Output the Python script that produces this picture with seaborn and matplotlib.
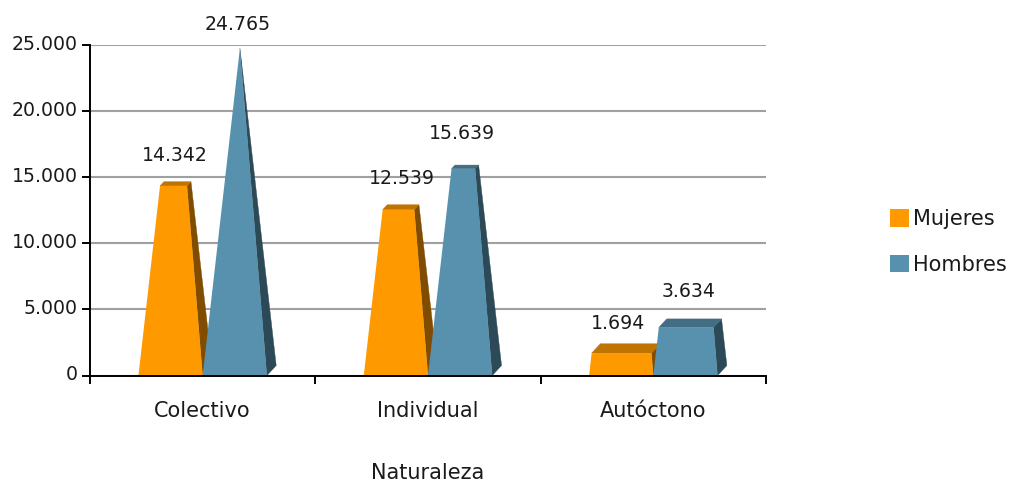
import pandas as pd
import matplotlib
matplotlib.use('Agg')
import matplotlib.pyplot as plt
from matplotlib.patches import Polygon
from matplotlib.transforms import ScaledTranslation
import seaborn as sns

categories = ['Colectivo', 'Individual', 'Autóctono']
mujeres = [14342, 12539, 1694]
hombres = [24765, 15639, 3634]
series_names = ['Mujeres', 'Hombres']
y_ticks = [0, 5000, 10000, 15000, 20000, 25000]
y_tick_labels = ['0', '5.000', '10.000', '15.000', '20.000', '25.000']

front_colors = ['#FF9900', '#5891AD']
side_colors = ['#804D00', '#2C4957']
top_colors = ['#BF7300', '#426D82']

# label nudges in pixels (dx, dy above the bar top)
label_nudge = [[(4, 30), (3, 24)], [(6, 31), (2, 35)], [(-3, 30), (3, 36)]]


def fmt(v):
    return f'{int(round(v)):,}'.replace(',', '.')


def main():
    df = pd.DataFrame({
        'Naturaleza': categories * 2,
        'Serie': [series_names[0]] * 3 + [series_names[1]] * 3,
        'Valor': mujeres + hombres,
    })

    sns.set_theme(style='white')
    plt.rcParams['font.family'] = ['DejaVu Sans']
    fig = plt.figure(figsize=(10.18, 4.82), dpi=100)
    ax = fig.add_axes([90 / 1018, 1 - 375.5 / 482, 676 / 1018, 330.5 / 482])
    sns.barplot(data=df, x='Naturaleza', y='Valor', hue='Serie', hue_order=series_names,
                palette=front_colors, width=0.57, gap=0, saturation=1, legend=True, ax=ax)

    ax.set_xlim(-0.5, 2.5)
    ax.set_ylim(0, 25000)
    vmax = max(hombres)
    px = fig.dpi / 72

    handles, labels = ax.get_legend_handles_labels()
    legend_handles = [plt.Rectangle((0, 0), 1, 1, facecolor=c, edgecolor='none') for c in front_colors]

    # pyramid look: the bars narrow to an apex at the largest value
    for i, cont in enumerate(ax.containers):
        for j, bar in enumerate(cont):
            x0 = bar.get_x()
            w = bar.get_width()
            v = bar.get_height()
            t = v / vmax
            x1 = x0 + w
            tl = x0 + w * 0.58 * t
            tr = x1 - w * 0.42 * t
            dx = w * 0.145
            dy = 25000 * 10 / 330
            kx = dx * (1 - t)
            ky = dy * (1 - t)
            z = 3 + i
            bar.set_visible(False)
            ax.add_patch(Polygon([(x1, 0), (tr, v), (tr + kx, v + ky), (x1 + dx, dy)],
                                 facecolor=side_colors[i], edgecolor=side_colors[i], lw=0.3, zorder=z))
            ax.add_patch(Polygon([(tl, v), (tr, v), (tr + kx, v + ky), (tl + kx, v + ky)],
                                 facecolor=top_colors[i], edgecolor=top_colors[i], lw=0.3, zorder=z + 0.1))
            ax.add_patch(Polygon([(x0, 0), (x1, 0), (tr, v), (tl, v)],
                                 facecolor=front_colors[i], edgecolor='none', zorder=z + 0.2))
            nx, ny = label_nudge[j][i]
            ax.annotate(fmt(v), xy=(x0 + w / 2, v), xytext=(nx / px, ny / px),
                        textcoords='offset points', ha='center', va='center',
                        fontsize=13.6, color='#1a1a1a', zorder=10, annotation_clip=False)

    ax.set_yticks(y_ticks)
    ax.set_yticklabels(y_tick_labels, fontsize=13.6, color='#1a1a1a')
    ax.yaxis.grid(True, color='#A0A0A0', lw=1.5)
    ax.set_axisbelow(True)

    ax.set_xticks([-0.5, 0.5, 1.5, 2.5])
    ax.set_xticklabels([])
    ax.set_xticks([0, 1, 2], minor=True)
    ax.set_xticklabels(categories, minor=True, fontsize=15, color='#1a1a1a')
    ax.tick_params(axis='x', which='major', length=5.8, width=1.4, color='black', bottom=True)
    ax.tick_params(axis='x', which='minor', length=0, pad=18.5, bottom=False)
    ax.tick_params(axis='y', length=5.8, width=1.4, color='black', left=True, pad=3)

    # tick_params resets the label transforms, so lift the y labels afterwards
    lift = ScaledTranslation(0, 2.5 / 100, fig.dpi_scale_trans)
    for lab in ax.get_yticklabels():
        lab.set_transform(lab.get_transform() + lift)

    ax.set_xlabel('')
    ax.set_ylabel('')
    fig.text(428 / 1018, 1 - 473 / 482, 'Naturaleza', ha='center', va='center',
             fontsize=15, color='#1a1a1a')

    sns.despine(ax=ax)
    for side in ['left', 'bottom']:
        ax.spines[side].set_color('black')
        ax.spines[side].set_linewidth(1.4)
        ax.spines[side].set_zorder(12)

    ax.legend(legend_handles, labels, loc='center left', bbox_to_anchor=(890 / 1018, 1 - 242 / 482),
              bbox_transform=fig.transFigure, frameon=False, fontsize=15, handlelength=0.92,
              handleheight=0.92, handletextpad=0.2, labelspacing=1.22, borderpad=0, borderaxespad=0,
              labelcolor='#1a1a1a')

    fig.savefig('out.png', dpi=100, facecolor='white')


if __name__ == '__main__':
    main()
